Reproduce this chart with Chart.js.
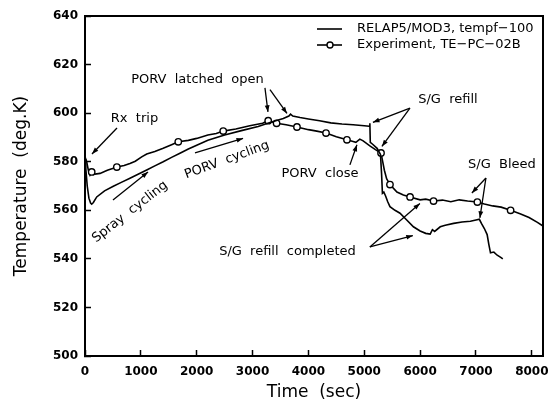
<!DOCTYPE html>
<html>
<head>
<meta charset="utf-8">
<script src="https://cdn.jsdelivr.net/npm/chart.js@4.4.1/dist/chart.umd.min.js"></script>
<style>
  html, body { margin: 0; padding: 0; background: #fff; }
  #chart { display: block; }
</style>
</head>
<body>
<canvas id="chart" width="548" height="412"></canvas>
<script>
// RELAP5/MOD3 calculation (time s, temperature K)
const relapTime = [0, 15, 40, 70, 100, 120, 150, 210, 350, 507, 650, 805, 950, 1105, 1250, 1400, 1550, 1700, 1850, 2000, 2200, 2500, 2800, 3100, 3300, 3430, 3550, 3650, 3680, 3720, 3850, 4000, 4200, 4400, 4600, 4800, 5000, 5090, 5100, 5108, 5150, 5230, 5290, 5310, 5325, 5350, 5380, 5420, 5460, 5550, 5640, 5760, 5880, 6000, 6100, 6180, 6220, 6260, 6360, 6450, 6600, 6750, 6900, 7000, 7060, 7100, 7150, 7200, 7230, 7260, 7320, 7380, 7450, 7480];
const relapTemp = [581, 577, 570, 565, 563, 562.5, 563.2, 565.5, 568, 569.9, 571.5, 573.2, 574.8, 576.6, 578.3, 580, 581.8, 583.5, 585.2, 586.8, 588.8, 591, 592.8, 594.5, 596, 597, 597.8, 598.8, 599.6, 598.8, 598.2, 597.6, 596.9, 596, 595.5, 595.2, 594.8, 594.6, 595.8, 588, 587.2, 585.5, 583, 575, 567, 567.5, 566, 563.5, 561.5, 560, 558.8, 556, 553.2, 551.5, 550.5, 550.2, 552, 551.3, 553.2, 553.8, 554.6, 555.2, 555.5, 556, 556.3, 554.5, 552.5, 550, 546, 542.5, 542.8, 541.5, 540.5, 540];

// Experiment TE-PC-02B (time s, temperature K)
const expTime = [0, 30, 60, 90, 120, 150, 270, 400, 507, 570, 700, 805, 900, 1015, 1105, 1250, 1400, 1550, 1670, 1850, 2000, 2200, 2350, 2475, 2700, 2950, 3180, 3280, 3350, 3430, 3600, 3795, 4000, 4150, 4315, 4500, 4690, 4800, 4850, 4920, 4980, 5100, 5200, 5300, 5330, 5360, 5400, 5460, 5585, 5700, 5820, 6000, 6100, 6240, 6400, 6550, 6700, 6850, 7025, 7150, 7300, 7450, 7620, 7800, 7950, 8100, 8200];
const expTemp = [582, 580, 576.5, 574.5, 575.8, 574.8, 575.2, 576.5, 577.3, 577.8, 578.4, 579.3, 580.2, 582, 583.2, 584.2, 585.5, 587, 588.2, 588.8, 589.6, 591, 591.6, 592.6, 593.5, 594.8, 595.8, 596.9, 596.4, 595.8, 595.2, 594.3, 593.2, 592.6, 591.8, 590.3, 589, 588.3, 588, 589.3, 588.6, 586.5, 585, 583.6, 580, 576.5, 573, 570.6, 567.5, 566.3, 565.5, 564.3, 564.6, 563.8, 564.2, 563.5, 564.3, 563.8, 563.4, 562.6, 561.8, 561.3, 560, 558.5, 557, 555, 553.5];
// times where the experiment curve carries a circle marker
const expMarkTimes = [120, 570, 1670, 2475, 3280, 3430, 3795, 4315, 4690, 5300, 5460, 5820, 6240, 7025, 7620];

const xTicks = [0, 1000, 2000, 3000, 4000, 5000, 6000, 7000, 8000];
const yTicks = [500, 520, 540, 560, 580, 600, 620, 640];

// annotations: text at (t, T), arrows from/to in data units
const notes = [
  { text: 'Rx  trip', t: 886, T: 597.6, rot: 0, arrows: [[573, 593.9, 125, 583.2]] },
  { text: 'PORV  latched  open', t: 2014, T: 613.7, rot: 0, arrows: [[3222, 610.4, 3276, 600.5], [3312, 609.7, 3616, 599.9]] },
  { text: 'PORV  cycling', t: 2542, T: 580.7, rot: -20, arrows: [[1969, 583.6, 2830, 589.6]] },
  { text: 'Spray  cycling', t: 806, T: 559.3, rot: -38, arrows: [[501, 564.2, 1128, 575.8]] },
  { text: 'S/G  refill', t: 6498, T: 605.4, rot: 0, arrows: [[5818, 602.1, 5155, 596.2], [5818, 602.1, 5316, 586.3]] },
  { text: 'PORV  close', t: 4207, T: 574.9, rot: 0, arrows: [[4743, 578.7, 4869, 587]] },
  { text: 'S/G  Bleed', t: 7464, T: 578.7, rot: 0, arrows: [[7178, 573.3, 6927, 567.1], [7178, 573.3, 7070, 556.9]] },
  { text: 'S/G  refill  completed', t: 3625, T: 542.8, rot: 0, arrows: [[5100, 544.9, 5996, 562.8], [5100, 544.9, 5870, 549.6]] }
];

Chart.defaults.font.family = "'DejaVu Sans', sans-serif";
Chart.defaults.color = '#000';

const relapPts = relapTime.map((t, i) => ({ x: t, y: relapTemp[i] }));
const expPts = expTime.map((t, i) => ({ x: t, y: expTemp[i] }));

function arrow(ctx, x1, y1, x2, y2) {
  const a = Math.atan2(y2 - y1, x2 - x1), h = 7;
  ctx.beginPath(); ctx.moveTo(x1, y1); ctx.lineTo(x2, y2); ctx.stroke();
  ctx.beginPath();
  ctx.moveTo(x2, y2);
  ctx.lineTo(x2 - h * Math.cos(a - 0.35), y2 - h * Math.sin(a - 0.35));
  ctx.lineTo(x2 - h * Math.cos(a + 0.35), y2 - h * Math.sin(a + 0.35));
  ctx.closePath(); ctx.fill();
}

const decor = {
  id: 'decor',
  afterDraw(chart) {
    const { ctx, chartArea: ca, scales: { x, y } } = chart;
    ctx.save();
    // frame
    ctx.strokeStyle = '#000'; ctx.lineWidth = 2;
    ctx.strokeRect(ca.left, ca.top, ca.right - ca.left, ca.bottom - ca.top);
    // notes
    ctx.fillStyle = '#000'; ctx.lineWidth = 1.3;
    ctx.font = "13px 'DejaVu Sans'";
    ctx.textAlign = 'center'; ctx.textBaseline = 'middle';
    notes.forEach(n => {
      const px = x.getPixelForValue(n.t), py = y.getPixelForValue(n.T);
      ctx.save(); ctx.translate(px, py); ctx.rotate(n.rot * Math.PI / 180);
      ctx.fillText(n.text, 0, 0); ctx.restore();
      n.arrows.forEach(a => arrow(ctx, x.getPixelForValue(a[0]), y.getPixelForValue(a[1]), x.getPixelForValue(a[2]), y.getPixelForValue(a[3])));
    });
    // legend
    ctx.textAlign = 'left';
    chart.data.datasets.forEach((ds, i) => {
      const ly = 29 + i * 16;
      ctx.lineWidth = 1.6;
      ctx.beginPath(); ctx.moveTo(317, ly); ctx.lineTo(342, ly); ctx.stroke();
      if (ds.marker) {
        ctx.fillStyle = '#fff'; ctx.lineWidth = 1.4;
        ctx.beginPath(); ctx.arc(330, ly, 3, 0, Math.PI * 2); ctx.fill(); ctx.stroke();
        ctx.fillStyle = '#000';
      }
      ctx.fillText(ds.label, 357, ly);
    });
    ctx.restore();
  }
};

new Chart(document.getElementById('chart'), {
  type: 'line',
  data: {
    datasets: [
      { label: 'RELAP5/MOD3, tempf\u2212100', data: relapPts, borderColor: '#000', borderWidth: 1.6, pointRadius: 0, tension: 0 },
      { label: 'Experiment, TE\u2212PC\u221202B', marker: true, data: expPts, borderColor: '#000', borderWidth: 1.6, tension: 0,
        pointRadius: c => expMarkTimes.includes(c.raw.x) ? 3.2 : 0,
        pointBackgroundColor: '#fff', pointBorderColor: '#000', pointBorderWidth: 1.4 }
    ]
  },
  options: {
    responsive: false,
    animation: false,
    layout: { padding: { top: 16, right: 5, left: 0, bottom: 0 } },
    plugins: { legend: { display: false }, tooltip: { enabled: false } },
    scales: {
      x: {
        type: 'linear', min: 0, max: 8200,
        afterBuildTicks: s => { s.ticks = xTicks.map(v => ({ value: v })); },
        afterFit: s => { s.height = 56; s.paddingLeft = 0; s.paddingRight = 0; },
        grid: { drawOnChartArea: false, tickLength: -6, tickWidth: 1.5, tickColor: '#000' },
        border: { display: true, color: '#000', width: 2 },
        ticks: { padding: 15, font: { size: 12, weight: 'bold' }, maxRotation: 0, callback: v => String(v) },
        title: { display: true, text: 'Time  (sec)', font: { size: 17 }, padding: { top: 0, bottom: 9 } }
      },
      y: {
        min: 500, max: 640,
        afterBuildTicks: s => { s.ticks = yTicks.map(v => ({ value: v })); },
        afterFit: s => { s.width = 85; s.paddingTop = 0; s.paddingBottom = 0; },
        grid: { drawOnChartArea: false, tickLength: -6, tickWidth: 1.5, tickColor: '#000' },
        border: { display: true, color: '#000', width: 2 },
        ticks: { padding: 13, font: { size: 12, weight: 'bold' }, callback: v => String(v) },
        title: { display: true, text: 'Temperature  (deg.K)', font: { size: 17 }, padding: { top: 11, bottom: 0 } }
      }
    }
  },
  plugins: [decor]
});
</script>
</body>
</html>
